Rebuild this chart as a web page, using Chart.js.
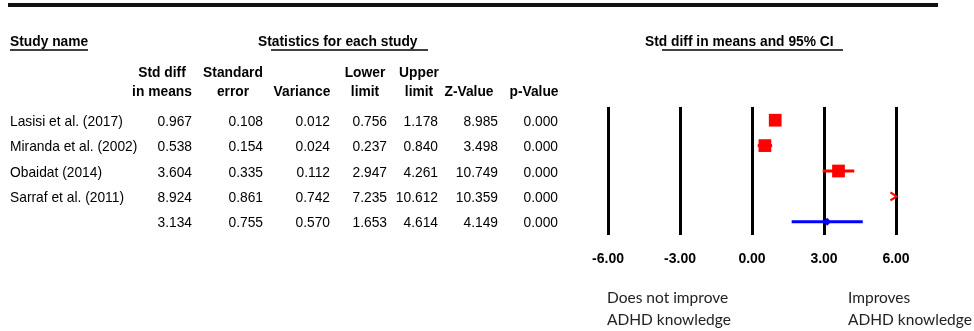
<!DOCTYPE html>
<html>
<head>
<meta charset="utf-8">
<script src="https://cdn.jsdelivr.net/npm/chart.js@4.4.1/dist/chart.umd.min.js"></script>
<style>
  html, body { margin: 0; padding: 0; background: #fff; }
  #wrap { position: relative; width: 974px; height: 331px; }
</style>
</head>
<body>
<div id="wrap"><canvas id="c" width="974" height="331"></canvas></div>
<script>
// ---- data ----
const studyNames = ['Lasisi et al. (2017)', 'Miranda et al. (2002)', 'Obaidat (2014)', 'Sarraf et al. (2011)'];
const stdDiff   = [0.967, 0.538, 3.604, 8.924];
const stdErr    = [0.108, 0.154, 0.335, 0.861];
const variance  = [0.012, 0.024, 0.112, 0.742];
const lowerLim  = [0.756, 0.237, 2.947, 7.235];
const upperLim  = [1.178, 0.840, 4.261, 10.612];
const zValue    = [8.985, 3.498, 10.749, 10.359];
const pValue    = [0.000, 0.000, 0.000, 0.000];
// pooled (summary) row
const pooledStats = { stdDiff: 3.134, stdErr: 0.755, variance: 0.570, lower: 1.653, upper: 4.614, z: 4.149, p: 0.000 };
const xTicks = [-6, -3, 0, 3, 6];
const colHeaders1 = ['Std diff', 'Standard', '', 'Lower', 'Upper', '', ''];
const colHeaders2 = ['in means', 'error', 'Variance', 'limit', 'limit', 'Z-Value', 'p-Value'];
const leftNote = ['Does not improve', 'ADHD knowledge'];
const rightNote = ['Improves', 'ADHD knowledge'];

// ---- layout constants (pixels) ----
const SANS = '"Liberation Sans", Arial, sans-serif';
const SX = 0.92; // horizontal squeeze to mimic the narrow face
const colRight  = [192, 263, 330, 387, 438, 498, 558];
const colCenter = [162, 233, 302, 365, 419, 469, 534];
const RED = '#ff0000', BLUE = '#0000ff';

const rowCount = studyNames.length + 1;

const datasets = [];
// study point estimates (squares)
datasets.push({
  label: 'Std diff in means',
  data: stdDiff.map((v, i) => ({ x: v, y: i })),
  pointStyle: 'rect', pointRadius: 9, pointHoverRadius: 9,
  backgroundColor: RED, borderColor: RED, borderWidth: 0, showLine: false
});
// pooled estimate (small diamond)
datasets.push({
  label: 'Pooled',
  data: [{ x: pooledStats.stdDiff, y: studyNames.length }],
  pointStyle: 'rectRot', pointRadius: 4, pointHoverRadius: 4,
  backgroundColor: BLUE, borderColor: BLUE, borderWidth: 0, showLine: false
});
// confidence intervals
studyNames.forEach((n, i) => {
  datasets.push({
    label: n + ' CI',
    data: [{ x: lowerLim[i], y: i }, { x: upperLim[i], y: i }],
    showLine: true, borderColor: RED, borderWidth: 3, pointRadius: 0, pointHoverRadius: 0
  });
});
datasets.push({
  label: 'Pooled CI',
  data: [{ x: pooledStats.lower, y: studyNames.length }, { x: pooledStats.upper, y: studyNames.length }],
  showLine: true, borderColor: BLUE, borderWidth: 3, pointRadius: 0, pointHoverRadius: 0
});

function squeezed(ctx, text, x, y, align) {
  ctx.save();
  ctx.translate(x, y);
  ctx.scale(SX, 1);
  ctx.textAlign = align;
  ctx.fillText(text, 0, 0);
  ctx.restore();
}

const tablePlugin = {
  id: 'forestTable',
  afterDraw(chart) {
    const ctx = chart.ctx;
    const ys = chart.scales.y, xs = chart.scales.x;
    ctx.save();
    // top rule
    ctx.strokeStyle = '#111';
    ctx.lineWidth = 4;
    ctx.beginPath(); ctx.moveTo(8, 5); ctx.lineTo(938, 5); ctx.stroke();

    // section headers
    ctx.fillStyle = '#000';
    ctx.textBaseline = 'middle';
    ctx.font = `bold 15px ${SANS}`;
    squeezed(ctx, 'Study name', 10, 42, 'left');
    squeezed(ctx, 'Statistics for each study', 258, 42, 'left');
    squeezed(ctx, 'Std diff in means and 95% CI', 645, 42, 'left');
    ctx.lineWidth = 1.3;
    ctx.strokeStyle = '#000';
    const ul = (a, b) => { ctx.beginPath(); ctx.moveTo(a, 50); ctx.lineTo(b, 50); ctx.stroke(); };
    ul(10, 88); ul(271, 428); ul(662, 843);

    // column headers
    colHeaders1.forEach((h, k) => { if (h) squeezed(ctx, h, colCenter[k], 73, 'center'); });
    colHeaders2.forEach((h, k) => { if (h) squeezed(ctx, h, colCenter[k], 92, 'center'); });

    // rows
    ctx.font = `15px ${SANS}`;
    const rows = studyNames.map((n, i) => [n, stdDiff[i], stdErr[i], variance[i], lowerLim[i], upperLim[i], zValue[i], pValue[i]]);
    rows.push(['', pooledStats.stdDiff, pooledStats.stdErr, pooledStats.variance, pooledStats.lower, pooledStats.upper, pooledStats.z, pooledStats.p]);
    rows.forEach((r, i) => {
      const y = ys.getPixelForValue(i) + 1.5;
      if (r[0]) squeezed(ctx, r[0], 10, y, 'left');
      for (let k = 1; k < r.length; k++) squeezed(ctx, r[k].toFixed(3), colRight[k - 1], y, 'right');
    });

    // off-scale arrows
    const xMax = xs.max, xMin = xs.min;
    ctx.strokeStyle = RED; ctx.lineWidth = 2.2;
    stdDiff.forEach((v, i) => {
      if (v > xMax) {
        const px = xs.getPixelForValue(xMax) + 0.5, py = ys.getPixelForValue(i);
        ctx.beginPath(); ctx.moveTo(px - 6, py - 4); ctx.lineTo(px, py); ctx.lineTo(px - 6, py + 4); ctx.stroke();
      } else if (v < xMin) {
        const px = xs.getPixelForValue(xMin) - 0.5, py = ys.getPixelForValue(i);
        ctx.beginPath(); ctx.moveTo(px + 6, py - 4); ctx.lineTo(px, py); ctx.lineTo(px + 6, py + 4); ctx.stroke();
      }
    });

    // bottom notes
    ctx.fillStyle = '#222';
    ctx.font = '15.5px Lato, "Open Sans", sans-serif';
    ctx.textAlign = 'left';
    ctx.fillText(leftNote[0], xs.left - 1, 298);
    ctx.fillText(leftNote[1], xs.left - 1, 320);
    ctx.fillText(rightNote[0], 848, 298);
    ctx.fillText(rightNote[1], 848, 320);
    ctx.restore();
  }
};

new Chart(document.getElementById('c'), {
  type: 'scatter',
  data: { datasets },
  options: {
    responsive: false,
    animation: false,
    devicePixelRatio: 1,
    layout: { padding: { left: 608, right: 78, top: 107, bottom: 0 } },
    plugins: { legend: { display: false }, tooltip: { enabled: false } },
    scales: {
      x: {
        type: 'linear',
        min: xTicks[0], max: xTicks[xTicks.length - 1],
        afterBuildTicks: (s) => { s.ticks = xTicks.map(v => ({ value: v })); },
        afterFit: (s) => { s.height = 96; },
        grid: { color: '#000', lineWidth: 3, drawTicks: false, drawOnChartArea: true },
        border: { display: false },
        ticks: {
          color: '#000', padding: 16, maxRotation: 0,
          font: { family: SANS, size: 14, weight: 'bold' },
          callback: (v) => Number(v).toFixed(2)
        }
      },
      y: {
        type: 'linear', display: false, reverse: true,
        min: -0.52, max: rowCount - 1 + 0.52
      }
    }
  },
  plugins: [tablePlugin]
});
</script>
</body>
</html>
